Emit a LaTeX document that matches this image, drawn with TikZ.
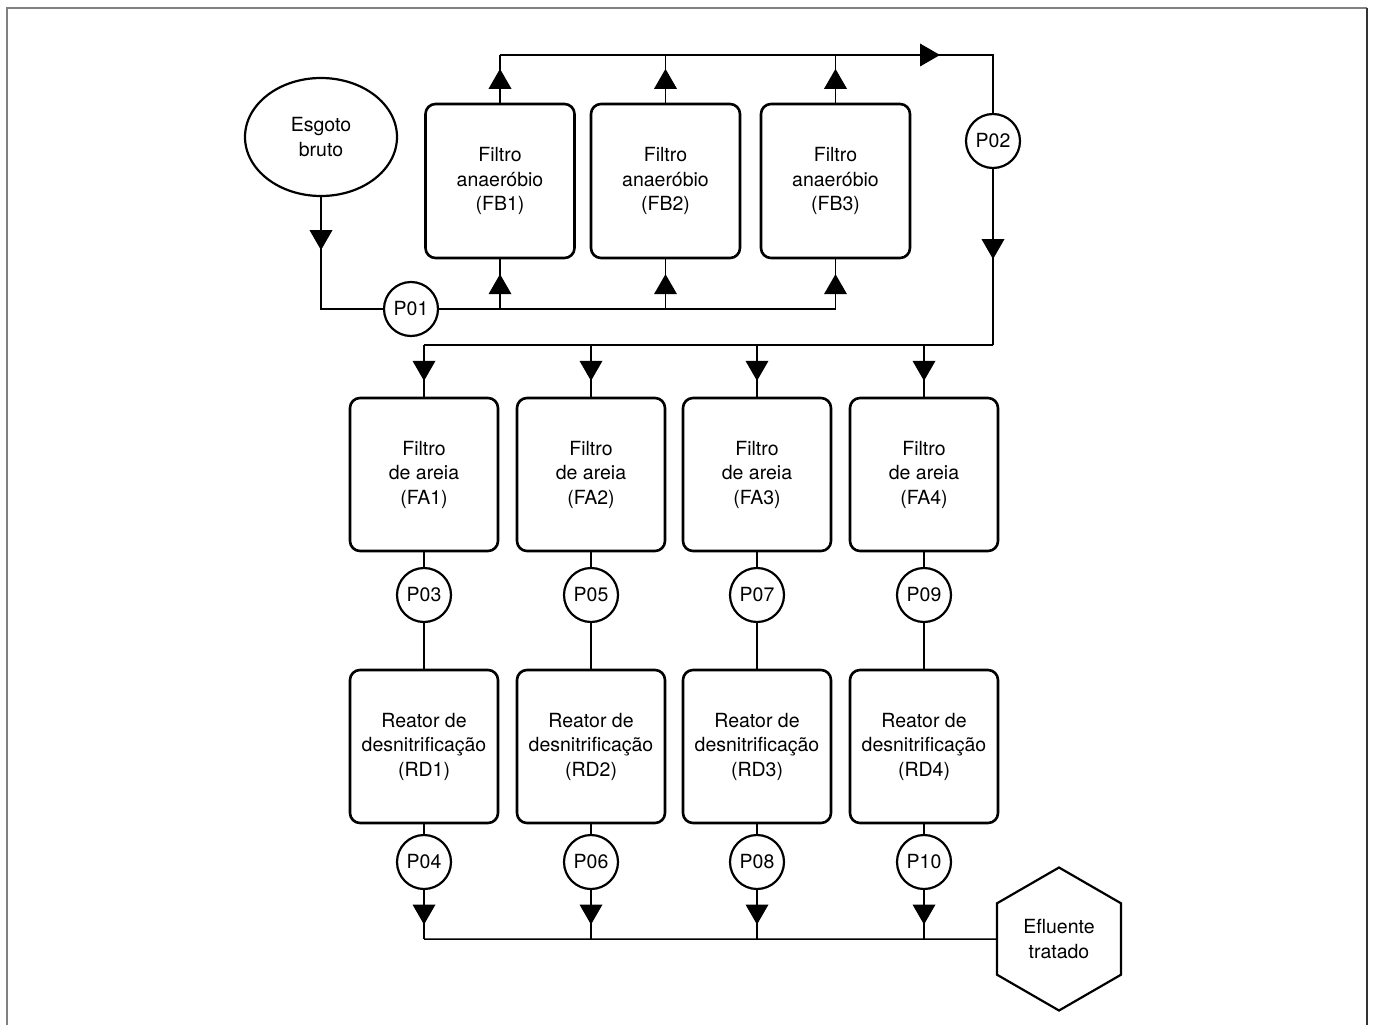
\documentclass[tikz,border=0pt]{standalone}
\usepackage{fontspec}
\setmainfont{TeX Gyre Heros}
\usetikzlibrary{shapes.geometric,decorations.markings}
\tikzset{
  txt/.style={font=\fontsize{19.5}{24.5}\selectfont, align=center},
  box/.style={draw, txt, rounded corners=10pt, line width=2.6pt, inner sep=0pt,
    minimum width=148pt, minimum height=153pt},
  pnode/.style={draw, circle, txt, line width=2.2pt, inner sep=0pt, minimum size=54pt},
  conn/.style={line width=1.5pt},
  arr/.style={postaction={decorate}, decoration={markings,
    mark=at position #1 with {\fill (10pt,0pt) -- (-10pt,11.5pt) -- (-10pt,-11.5pt) -- cycle;}}},
  arr/.default=0.5
}
\begin{document}
\begin{tikzpicture}[x=1pt,y=-1pt]
\useasboundingbox (0,0) rectangle (1373,1025);
% frame
\draw[line width=2pt, black!50] (7,1025) -- (7,8) -- (1367,8);
\draw[line width=2pt, black!80] (1367,8) -- (1367,1025);

% source
\node[draw, ellipse, txt, line width=2.2pt, inner sep=0pt, minimum width=152pt, minimum height=118pt] (esg) at (321,137) {Esgoto\\bruto};

% anaerobic filters
\node[box, minimum width=149pt, minimum height=154pt] (fb1) at (500,181) {Filtro\\anaeróbio\\(FB1)};
\node[box, minimum width=149pt, minimum height=154pt] (fb2) at (665.5,181) {Filtro\\anaeróbio\\(FB2)};
\node[box, minimum width=149pt, minimum height=154pt] (fb3) at (835.5,181) {Filtro\\anaeróbio\\(FB3)};

% sand filters
\node[box] (fa1) at (424,474.5) {Filtro\\de areia\\(FA1)};
\node[box] (fa2) at (591,474.5) {Filtro\\de areia\\(FA2)};
\node[box] (fa3) at (757,474.5) {Filtro\\de areia\\(FA3)};
\node[box] (fa4) at (924,474.5) {Filtro\\de areia\\(FA4)};

% reactors
\node[box] (rd1) at (424,746.5) {Reator de\\desnitrificação\\(RD1)};
\node[box] (rd2) at (591,746.5) {Reator de\\desnitrificação\\(RD2)};
\node[box] (rd3) at (757,746.5) {Reator de\\desnitrificação\\(RD3)};
\node[box] (rd4) at (924,746.5) {Reator de\\desnitrificação\\(RD4)};

% sampling points
\node[pnode] (p01) at (411,309) {P01};
\node[pnode] (p02) at (993,141) {P02};
\node[pnode] (p03) at (424,595) {P03};
\node[pnode] (p05) at (591,595) {P05};
\node[pnode] (p07) at (757,595) {P07};
\node[pnode] (p09) at (924,595) {P09};
\node[pnode] (p04) at (424,862) {P04};
\node[pnode] (p06) at (591,862) {P06};
\node[pnode] (p08) at (757,862) {P08};
\node[pnode] (p10) at (924,862) {P10};

% effluent
\node[draw, regular polygon, regular polygon sides=6, shape border rotate=90, txt,
  line width=2.2pt, inner sep=0pt, minimum size=143pt] (hex) at (1059,939) {Efluente\\tratado};

% coordinates
\coordinate (c0) at (321,309);
\coordinate (c1) at (500,309);
\coordinate (c2) at (665.5,309);
\coordinate (c3) at (835.5,309);
\coordinate (t1) at (500,55);
\coordinate (t2) at (665.5,55);
\coordinate (t3) at (835.5,55);
\coordinate (tr) at (993,55);
\coordinate (d0) at (993,345);
\coordinate (b1) at (424,345);
\coordinate (b2) at (591,345);
\coordinate (b3) at (757,345);
\coordinate (b4) at (924,345);
\coordinate (e1) at (424,939);
\coordinate (e2) at (591,939);
\coordinate (e3) at (757,939);
\coordinate (e4) at (924,939);

% feed
\draw[conn, arr=43pt] (esg.south) -- (c0) -- (p01);
\draw[conn] (p01) -- (c3);
\draw[conn, arr] (c1) -- (fb1.south);
\draw[conn, arr] (c2) -- (fb2.south);
\draw[conn, arr] (c3) -- (fb3.south);

% anaerobic outlets
\draw[conn, arr] (fb1.north) -- (t1);
\draw[conn, arr] (fb2.north) -- (t2);
\draw[conn, arr] (fb3.north) -- (t3);
\draw[conn, arr=430pt] (t1) -- (tr) -- (p02);
\draw[conn, arr=80pt] (p02) -- (d0);
\draw[conn] (d0) -- (b1);

% sand filter inlets
\draw[conn, arr] (b1) -- (fa1.north);
\draw[conn, arr] (b2) -- (fa2.north);
\draw[conn, arr] (b3) -- (fa3.north);
\draw[conn, arr] (b4) -- (fa4.north);

% sand filters to reactors
\foreach \i/\p in {1/03,2/05,3/07,4/09} {
  \draw[conn] (fa\i) -- (p\p);
  \draw[conn] (p\p) -- (rd\i);
}
\foreach \i/\p in {1/04,2/06,3/08,4/10} {
  \draw[conn] (rd\i) -- (p\p);
  \draw[conn, arr] (p\p) -- (e\i);
}
\draw[conn] (e1) -- (hex.west);
\end{tikzpicture}
\end{document}
